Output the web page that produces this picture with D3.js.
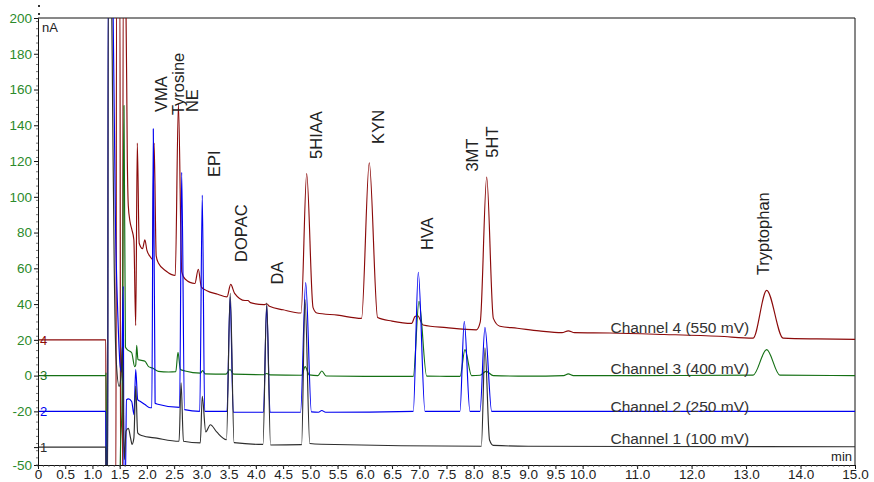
<!DOCTYPE html>
<html><head><meta charset="utf-8">
<script src="https://cdn.jsdelivr.net/npm/d3@7"></script>
<style>body{margin:0;background:#fff}svg{display:block;font-family:"Liberation Sans",Arial,Helvetica,sans-serif}</style>
</head><body><svg id="c" width="874" height="482"></svg>
<script>
// ---------------- DATA ----------------
const channelNames = ["Channel 1 (100 mV)", "Channel 2 (250 mV)", "Channel 3 (400 mV)", "Channel 4 (550 mV)"];
const channelMarks = ["1", "2", "3", "4"];
const channelOffsets = [-40, -20, 0, 20];          // nA baseline of each channel
const channelLabelValues = [-38.3, -20.1, 0.9, 23.8]; // nA where the channel caption sits
const channelLabelTime = 10.51;

// time (min), current (nA)
const ch1 = [[0,-40],[1.245,-40],[1.25,-60],[1.28,-60],[1.29,215],[1.35,215],[1.37,150],[1.40,60],[1.43,12],[1.49,-6],[1.525,0],[1.548,16],[1.585,-47],[1.616,-31],[1.66,-29.5],[1.70,-35],[1.727,-38.5],[1.76,-35],[1.794,-6],[1.83,-32],[1.9,-33.5],[2.18,-35],[2.59,-36.7],[2.627,-4],[2.67,-36.7],[2.98,-37.6],[3.016,-11.6],[3.08,-31.5],[3.165,-27.5],[3.28,-31.5],[3.46,-35.8],[3.53,46],[3.6,-37.5],[4.13,-38.5],[4.199,40.6],[4.27,-38.8],[4.84,-38.6],[4.902,42.5],[4.99,-38],[5.2,-38.4],[8.14,-39.5],[8.206,15.5],[8.29,-36],[8.36,-39],[9,-39.5],[15,-39.8]];

const ch2 = [[0,-20],[1.245,-20],[1.25,-60],[1.278,-60],[1.288,215],[1.36,215],[1.38,200],[1.42,90],[1.47,30],[1.51,5],[1.535,2],[1.566,50],[1.578,-60],[1.603,-60],[1.625,-13.5],[1.66,-13],[1.72,-14.5],[1.762,-21.8],[1.794,3.4],[1.83,-13.4],[1.88,-14.5],[1.964,-16.2],[2.056,-18],[2.09,-18],[2.117,138],[2.15,-15.5],[2.2,-16],[2.6,-17.8],[2.638,113.7],[2.69,-19],[2.97,-20],[3.016,101],[3.06,-20],[3.47,-20],[3.527,44],[3.585,-20.5],[4.14,-20.5],[4.199,39],[4.26,-20.5],[4.82,-20.5],[4.915,52],[5.02,-20.3],[5.15,-20.5],[5.21,-19.5],[5.28,-20.5],[6.89,-20],[6.982,57.8],[7.105,-20],[7.747,-20],[7.826,30.4],[7.93,-20],[8.115,-20],[8.206,27],[8.33,-20],[15,-20]];

const ch3 = [[0,0],[1.245,0],[1.25,1.5],[1.258,-60],[1.50,-60],[1.518,-37],[1.54,-20],[1.579,151],[1.605,16],[1.64,14.5],[1.72,12.8],[1.775,5],[1.795,6],[1.812,17],[1.835,9],[1.9,8.5],[1.964,8],[2.03,5],[2.1,4.2],[2.21,2.4],[2.4,2],[2.53,2.2],[2.57,13],[2.615,3.4],[2.7,2.6],[2.98,1.4],[3.024,2.8],[3.07,1.0],[3.45,0.8],[3.525,3.4],[3.59,0.8],[4.14,0.5],[4.2,1.2],[4.26,0.4],[4.84,0.2],[4.905,5],[4.98,0.4],[5.14,0],[5.21,2.6],[5.29,-0.2],[6.0,-0.4],[6.89,-0.4],[6.995,41.5],[7.136,-0.3],[7.5,-0.4],[7.75,-0.4],[7.839,14.5],[7.96,0],[8.12,0.2],[8.225,2.4],[8.36,0],[9.0,-0.3],[9.65,0],[9.736,1],[9.83,0],[11,0],[13.13,0.3],[13.378,14.5],[13.62,0.3],[15,0]];

const ch4 = [[0,20],[1.245,20],[1.252,-60],[1.43,-60],[1.442,215],[1.505,215],[1.515,-60],[1.553,-60],[1.563,215],[1.612,215],[1.64,120],[1.658,95],[1.69,86],[1.72,82],[1.76,76],[1.794,28],[1.823,130],[1.858,74],[1.92,71],[1.962,76],[2.0,70],[2.06,66.5],[2.1,65],[2.132,130],[2.17,67],[2.21,63],[2.35,58.5],[2.52,56],[2.578,152],[2.64,58],[2.7,54],[2.88,51.5],[2.943,59.5],[3.0,49.5],[3.1,47.5],[3.3,45.5],[3.47,44],[3.538,51],[3.61,46],[3.8,42],[3.855,42],[3.9,40.8],[4.15,39.7],[4.2,40.2],[4.25,38.8],[4.5,36.8],[4.83,35],[4.933,113],[5.05,38],[5.12,35],[5.5,33.8],[5.94,32],[6.082,119],[6.235,32.5],[6.5,30.5],[6.86,29.2],[6.92,33],[6.97,33.5],[7.07,28.3],[7.5,26.8],[8.05,25.6],[8.12,30],[8.238,111],[8.36,32],[8.48,27.6],[8.8,26.5],[9.2,25],[9.62,24],[9.736,25],[9.85,24],[10.5,23.8],[11.5,23],[12.5,22],[13.13,21],[13.378,47.7],[13.68,21],[14.3,20.5],[15,20.3]];

const peakNames = ["VMA","Tyrosine","NE","EPI","DOPAC","DA","5HIAA","KYN","HVA","3MT","5HT","Tryptophan"];
const peakLabelTimes = [2.368, 2.68, 2.937, 3.341, 3.837, 4.498, 5.214, 6.352, 7.252, 8.078, 8.445, 13.42];
const peakLabelValues = [147.4, 145.7, 147.4, 111.1, 63.6, 50.9, 121.2, 129.6, 70.2, 114.1, 121.9, 56.2];

const xTickValues = [0,0.5,1,1.5,2,2.5,3,3.5,4,4.5,5,5.5,6,6.5,7,7.5,8,8.5,9,9.5,10,11,12,13,14,15];
const xTickLabels = ["0","0.5","1.0","1.5","2.0","2.5","3.0","3.5","4.0","4.5","5.0","5.5","6.0","6.5","7.0","7.5","8.0","8.5","9.0","9.5","10.0","11.0","12.0","13.0","14.0","15.0"];
const yTickValues = [200,180,160,140,120,100,80,60,40,20,0,-20,-40,-50];
const yTickLabels = ["200","180","160","140","120","100","80","60","40","20","0","-20","","-50"];

// ---------------- DRAW ----------------
const svg = d3.select("#c");
const x = d3.scaleLinear().domain([0, 15]).range([38, 855]);
const y = d3.scaleLinear().domain([-50, 200]).range([465, 18]);

const colors = ["#2e2e2e", "#0000f0", "#157015", "#8b0a0a"];
const traces = [ch1, ch2, ch3, ch4];

svg.append("defs").append("clipPath").attr("id", "clip")
  .append("rect").attr("x", x(0)).attr("y", y(200)).attr("width", x(15) - x(0)).attr("height", y(-50) - y(200));

// frame top/right
svg.append("line").attr("x1", x(0)).attr("x2", x(15)).attr("y1", y(200)).attr("y2", y(200)).attr("stroke", "#111").attr("stroke-width", 1);
svg.append("line").attr("x1", x(15)).attr("x2", x(15)).attr("y1", y(200)).attr("y2", y(-50)).attr("stroke", "#111").attr("stroke-width", 1);

// traces
const line = d3.line().x(d => x(d[0])).y(d => y(d[1])).curve(d3.curveMonotoneX);
const g = svg.append("g").attr("clip-path", "url(#clip)");
[3, 2, 1, 0].forEach(i => {
  g.append("path").attr("d", line(traces[i])).attr("fill", "none")
    .attr("stroke", colors[i]).attr("stroke-width", 1.15).attr("stroke-linejoin", "round");
});

// channel marks at left
channelMarks.forEach((m, i) => {
  svg.append("text").attr("x", x(0) + 2).attr("y", y(channelOffsets[i])).attr("dy", "0.36em")
    .attr("font-size", 13).attr("fill", colors[i]).text(m);
});

// channel captions
channelNames.forEach((n, i) => {
  svg.append("text").attr("x", x(channelLabelTime)).attr("y", y(channelLabelValues[i]))
    .attr("font-size", 15.5).attr("fill", "#333").text(n);
});

// peak labels
peakNames.forEach((n, i) => {
  const px = x(peakLabelTimes[i]), py = y(peakLabelValues[i]);
  svg.append("text").attr("transform", `translate(${px},${py}) rotate(-90)`)
    .attr("font-size", 16.5).attr("fill", "#222").text(n);
});

// x axis
const xAxis = d3.axisBottom(x).tickValues(xTickValues)
  .tickFormat((d, i) => xTickLabels[i]).tickSize(4).tickPadding(3);
const gx = svg.append("g").attr("transform", `translate(0,${y(-50)})`).call(xAxis);
gx.select(".domain").attr("stroke", "#111");
gx.selectAll(".tick line").attr("stroke", "#111");
gx.selectAll("text").attr("font-size", 13.5).attr("fill", "#222").attr("y", 14).attr("dy", null)
  .attr("font-family", "Liberation Sans, Arial, sans-serif");
gx.selectAll(".minor").data(d3.range(0, 150).map(k => k / 10)).enter().append("line")
  .attr("x1", d => x(d)).attr("x2", d => x(d)).attr("y1", 0).attr("y2", 2).attr("stroke", "#555").attr("stroke-width", 0.8);

// y axis
const yAxis = d3.axisLeft(y).tickValues(yTickValues)
  .tickFormat((d, i) => yTickLabels[i]).tickSize(4).tickPadding(2);
const gy = svg.append("g").attr("transform", `translate(${x(0)},0)`).call(yAxis);
gy.select(".domain").attr("stroke", "#111");
gy.selectAll(".tick line").attr("stroke", "#111");
gy.selectAll("text").attr("font-size", 13.5).attr("fill", "#2b8a2b").attr("font-family", "Liberation Sans, Arial, sans-serif");
gy.selectAll(".minor").data(d3.range(-50, 200, 4)).enter().append("line")
  .attr("x1", -2).attr("x2", 0).attr("y1", d => y(d)).attr("y2", d => y(d)).attr("stroke", "#555").attr("stroke-width", 0.8);

// units
svg.append("text").attr("x", x(0) + 4).attr("y", y(200) + 14).attr("font-size", 13).attr("fill", "#222").text("nA");
svg.append("text").attr("x", x(15) - 3).attr("y", y(-50) - 4).attr("text-anchor", "end").attr("font-size", 13).attr("fill", "#222").text("min");

// small dots above axis
[5, 13].forEach(yy => svg.append("rect").attr("x", x(0)).attr("y", yy).attr("width", 2).attr("height", 2).attr("fill", "#333"));
</script>
</body></html>
